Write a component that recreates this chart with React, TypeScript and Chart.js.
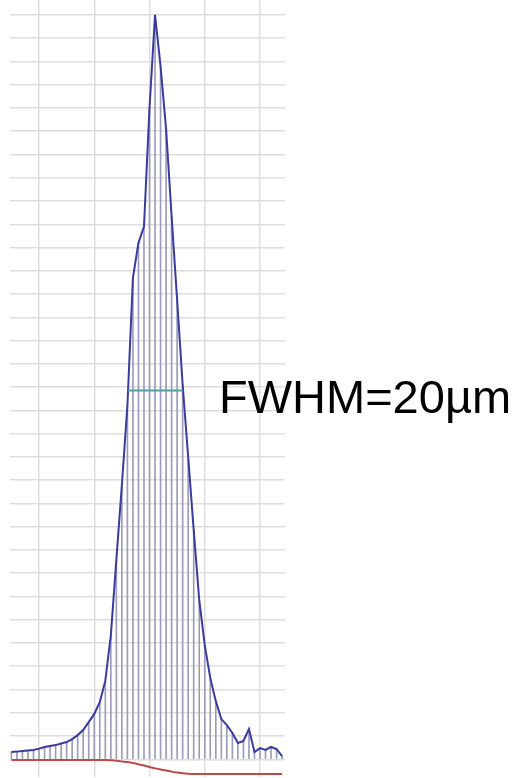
import React, { useEffect, useRef } from "react";
import { Chart, registerables } from "chart.js";

Chart.register(...registerables);

// Sample positions along the scan (µm)
const positions = [
  0, 2, 4, 6, 8, 10, 12, 14, 16, 18,
  20, 22, 24, 26, 28, 30, 32, 34, 36, 38,
  40, 42, 44, 46, 48, 50, 52, 54, 56, 58,
  60, 62, 64, 66, 68, 70, 72, 74, 76, 78,
  80, 82, 84, 86, 88, 90, 92, 94, 96, 98,
];

// Beam intensity profile (blue curve, arbitrary units)
const profile = [
  0.31, 0.33, 0.36, 0.38, 0.4, 0.46, 0.53, 0.57, 0.61, 0.68,
  0.74, 0.87, 1.04, 1.26, 1.6, 1.95, 2.46, 3.37, 5.33, 8.57,
  11.8, 15.2, 20.7, 22.2, 22.9, 28.0, 32.0, 29.8, 27.1, 23.35,
  19.75, 16.1, 13.0, 9.86, 6.85, 4.91, 3.5, 2.5, 1.73, 1.47,
  1.13, 0.7, 0.79, 1.3, 0.31, 0.48, 0.4, 0.53, 0.44, 0.14,
];

// Reference / background trace (red curve)
const reference = [
  -0.03, -0.03, -0.03, -0.03, -0.03, -0.03, -0.03, -0.03, -0.03, -0.03,
  -0.03, -0.03, -0.03, -0.03, -0.03, -0.03, -0.03, -0.03, -0.04, -0.06,
  -0.09, -0.12, -0.16, -0.21, -0.27, -0.33, -0.39, -0.44, -0.48, -0.53,
  -0.57, -0.6, -0.62, -0.63, -0.63, -0.63, -0.63, -0.63, -0.63, -0.63,
  -0.63, -0.63, -0.63, -0.63, -0.63, -0.63, -0.63, -0.63, -0.63, -0.63,
];

// FWHM marker (start / end position in µm, at half maximum)
const fwhmX = [42.2, 62.1];
const fwhmY = [15.85, 15.85];
const fwhmLabel = "FWHM=20µm";

// Grid positions
const xGrid = [10, 30, 50, 70, 90];
const yGrid = [
  0, 1, 2, 3, 4, 5, 6, 7, 8, 9, 10, 11, 12, 13, 14, 15, 16,
  17, 18, 19, 20, 21, 22, 23, 24, 25, 26, 27, 28, 29, 30, 31, 32,
];

export default function App() {
  const canvasRef = useRef<HTMLCanvasElement | null>(null);

  useEffect(() => {
    const canvas = canvasRef.current;
    if (!canvas) return;

    const labelPlugin = {
      id: "fwhmLabel",
      afterDraw(chart: any) {
        const ctx = chart.ctx;
        ctx.save();
        ctx.font = '47px "Liberation Sans", Arial, sans-serif';
        ctx.fillStyle = "#000000";
        ctx.textAlign = "left";
        ctx.textBaseline = "alphabetic";
        ctx.fillText(fwhmLabel, 219, 413);
        ctx.restore();
      },
    };

    const chart = new Chart(canvas, {
      type: "bar",
      data: {
        datasets: [
          {
            type: "line",
            label: "FWHM",
            data: fwhmX.map((x, i) => ({ x, y: fwhmY[i] })),
            borderColor: "#4a9fa6",
            borderWidth: 2,
            pointRadius: 0,
            order: 0,
          } as any,
          {
            type: "line",
            label: "profile",
            data: positions.map((x, i) => ({ x, y: profile[i] })),
            borderColor: "#3b3b9e",
            borderWidth: 2,
            pointRadius: 0,
            tension: 0,
            order: 1,
          } as any,
          {
            type: "line",
            label: "reference",
            data: positions.map((x, i) => ({ x, y: reference[i] })),
            borderColor: "#bd4a48",
            borderWidth: 2,
            pointRadius: 0,
            tension: 0.4,
            order: 2,
          } as any,
          {
            type: "bar",
            label: "samples",
            data: positions.map((x, i) => ({ x, y: profile[i] })),
            backgroundColor: "#9c9cb8",
            borderWidth: 0,
            barThickness: 1,
            order: 3,
          } as any,
        ],
      },
      options: {
        responsive: false,
        animation: false,
        events: [],
        layout: { padding: { left: 10, right: 236, top: 0, bottom: 1 } },
        plugins: {
          legend: { display: false },
          tooltip: { enabled: false },
          title: { display: false },
        },
        scales: {
          x: {
            type: "linear",
            min: -0.5,
            max: 99.05,
            offset: false,
            ticks: { display: false },
            border: { display: false },
            grid: {
              color: "#dedede",
              lineWidth: 1.5,
              drawTicks: false,
              offset: false,
            },
            afterBuildTicks: (scale: any) => {
              scale.ticks = xGrid.map((v) => ({ value: v }));
            },
          },
          y: {
            type: "linear",
            min: -0.761,
            max: 32.64,
            ticks: { display: false },
            border: { display: false },
            grid: { color: "#dedede", lineWidth: 1.5, drawTicks: false },
            afterBuildTicks: (scale: any) => {
              scale.ticks = yGrid.map((v) => ({ value: v }));
            },
          },
        },
      } as any,
      plugins: [labelPlugin],
    });

    return () => chart.destroy();
  }, []);

  return (
    <div
      style={{
        position: "fixed",
        left: 0,
        top: 0,
        width: 521,
        height: 778,
        background: "#ffffff",
      }}
    >
      <canvas ref={canvasRef} width={521} height={778} />
    </div>
  );
}
